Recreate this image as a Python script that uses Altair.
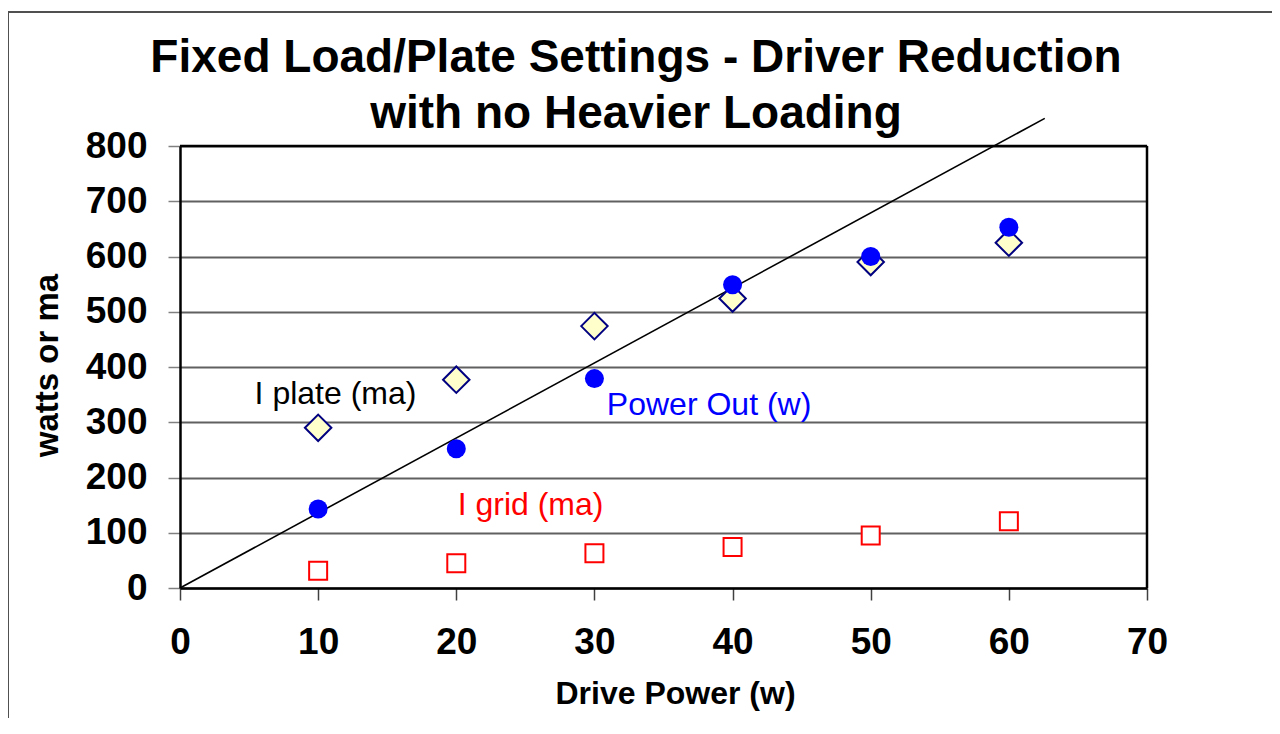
import altair as alt
import pandas as pd

# ---- data ----
drive_power = [10, 20, 30, 40, 50, 60]
power_out = [143, 252, 379, 549, 600, 653]
i_plate = [290, 377, 474, 524, 590, 625]
i_grid = [31, 45, 63, 74, 95, 121]

trend_x = [0, 62.6]
trend_y = [0, 850]

label_text = ["I plate (ma)", "Power Out (w)", "I grid (ma)"]
label_x = [5.4, 30.9, 20.1]
label_y = [333, 313, 132]
label_color = ["#000000", "#0000FF", "#FF0000"]

title_lines = ["Fixed Load/Plate Settings - Driver Reduction",
               "with no Heavier Loading"]

x_ticks = [0, 10, 20, 30, 40, 50, 60, 70]
y_ticks = [0, 100, 200, 300, 400, 500, 600, 700, 800]

FONT = "Liberation Sans"
W, H = 967, 442

pts = pd.DataFrame({"drive": drive_power, "power": power_out,
                    "plate": i_plate, "grid": i_grid})
trend = pd.DataFrame({"x": trend_x, "y": trend_y})
labels = pd.DataFrame({"text": label_text, "x": label_x, "y": label_y,
                       "color": label_color})
one = pd.DataFrame({"a": [0]})

xscale = alt.Scale(domain=[0, 70], nice=False)
yscale = alt.Scale(domain=[0, 800], nice=False)

xaxis = alt.Axis(values=x_ticks, title="Drive Power (w)", grid=False,
                 labelFontSize=37, labelFontWeight="bold", labelFont=FONT,
                 labelColor="#000000", labelPadding=24, labelFlush=False,
                 tickSize=12, tickColor="#404040", tickWidth=1.5,
                 domain=True, domainColor="#000000", domainWidth=2.5,
                 titleFont=FONT, titleFontSize=32,
                 titleFontWeight="bold", titleColor="#000000",
                 titleBaseline="alphabetic", titleY=115,
                 titleX=495, titleAlign="center")
yaxis = alt.Axis(values=y_ticks, title="watts or ma", grid=True,
                 gridColor="#606060", gridWidth=1.8,
                 labelFontSize=37, labelFontWeight="bold", labelFont=FONT,
                 labelColor="#000000", labelPadding=21, labelFlush=False,
                 tickSize=12, tickColor="#808080", tickWidth=1.5,
                 domain=True, domainColor="#000000", domainWidth=2.5,
                 titleFont=FONT, titleFontSize=33,
                 titleFontWeight="bold", titleColor="#000000",
                 titleAngle=270, titleBaseline="alphabetic",
                 titleX=-123, titleY=219, titleAlign="center")

plate_layer = alt.Chart(pts).mark_point(
    shape="diamond", filled=True, fill="#FFFFCC", stroke="#000080",
    strokeWidth=2, size=700, opacity=1
).encode(x=alt.X("drive:Q", scale=xscale, axis=xaxis),
         y=alt.Y("plate:Q", scale=yscale, axis=yaxis))

power_layer = alt.Chart(pts).mark_point(
    shape="circle", filled=True, color="#0000FF", size=361, opacity=1
).encode(x=alt.X("drive:Q", scale=xscale), y=alt.Y("power:Q", scale=yscale))

grid_layer = alt.Chart(pts).mark_point(
    shape="square", filled=True, fill="#FFFFFF", stroke="#FF0000",
    strokeWidth=2, size=324, opacity=1
).encode(x=alt.X("drive:Q", scale=xscale), y=alt.Y("grid:Q", scale=yscale))

trend_layer = alt.Chart(trend).mark_line(
    color="#000000", strokeWidth=1.6, clip=False
).encode(x=alt.X("x:Q", scale=xscale), y=alt.Y("y:Q", scale=yscale))

text_layer = alt.Chart(labels).mark_text(
    align="left", baseline="alphabetic", font=FONT, fontSize=32
).encode(x=alt.X("x:Q", scale=xscale), y=alt.Y("y:Q", scale=yscale),
         text="text:N", color=alt.Color("color:N", scale=None))

# plot-area border (top and right)
border_top = alt.Chart(one).mark_rule(color="#000000", strokeWidth=2.5, clip=False).encode(
    x=alt.value(0), x2=alt.value(W), y=alt.value(0))
border_right = alt.Chart(one).mark_rule(color="#000000", strokeWidth=2.5, clip=False).encode(
    x=alt.value(W), y=alt.value(0), y2=alt.value(H))

# outer chart frame (decoration)
frame_top = alt.Chart(one).mark_rule(color="#505050", strokeWidth=2, clip=False).encode(
    x=alt.value(-172), x2=alt.value(1200), y=alt.value(-134))
frame_left = alt.Chart(one).mark_rule(color="#505050", strokeWidth=2, clip=False).encode(
    x=alt.value(-172), y=alt.value(-134), y2=alt.value(700))

# chart title as text
title1 = alt.Chart(one).mark_text(
    text=title_lines[0], font=FONT, fontSize=46, fontWeight="bold",
    color="#000000", align="center", baseline="alphabetic", clip=False
).encode(x=alt.value(456), y=alt.value(-74))
title2 = alt.Chart(one).mark_text(
    text=title_lines[1], font=FONT, fontSize=46, fontWeight="bold",
    color="#000000", align="center", baseline="alphabetic", clip=False
).encode(x=alt.value(456), y=alt.value(-18))

chart = alt.layer(
    frame_top, frame_left, trend_layer, grid_layer, plate_layer, power_layer,
    text_layer, border_top, border_right, title1, title2
).properties(
    width=W, height=H,
    autosize=alt.AutoSizeParams(type="none"),
    padding={"left": 172, "top": 138, "right": 125, "bottom": 130},
).configure_view(
    fill="#C0C0C0", stroke="#000000", strokeWidth=2
).configure(background="#FFFFFF")

chart.save("out.html", embed_options={"renderer": "svg", "actions": False})
